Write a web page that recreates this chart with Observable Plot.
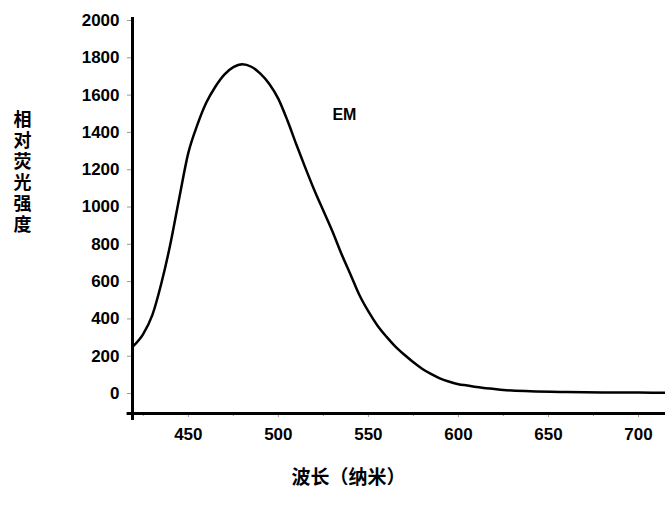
<!DOCTYPE html>
<html>
<head>
<meta charset="utf-8">
<script src="https://cdn.jsdelivr.net/npm/d3@7"></script>
<script src="https://cdn.jsdelivr.net/npm/@observablehq/plot@0.6"></script>
<style>
  html, body { margin: 0; padding: 0; background: #fff; }
  .ylab text { writing-mode: vertical-rl; text-orientation: upright; letter-spacing: 3px; }
</style>
</head>
<body>
<div id="chart"></div>
<script>
// Emission spectrum (EM)
const wavelength = [419, 425, 430, 435, 440, 445, 450, 455, 460, 465, 470, 475, 480, 485, 490, 495, 500, 505, 510, 515, 520, 525, 530, 535, 540, 545, 550, 555, 560, 565, 570, 575, 580, 585, 590, 595, 600, 605, 610, 620, 625, 640, 660, 680, 700, 715];
const intensity  = [250, 320, 420, 590, 800, 1050, 1290, 1440, 1560, 1645, 1710, 1750, 1766, 1752, 1715, 1660, 1580, 1465, 1335, 1210, 1090, 980, 870, 750, 640, 528, 440, 365, 305, 252, 208, 168, 132, 104, 80, 63, 50, 43, 35, 24, 19, 12, 8, 6, 5, 4];

const yTicks = [0, 200, 400, 600, 800, 1000, 1200, 1400, 1600, 1800, 2000];
const xTicks = [450, 500, 550, 600, 650, 700];
const xMinorTicks = [425, 475, 525, 575, 625, 675];

const seriesLabel = "EM";
const xLabel = "波长（纳米）";
const yLabel = "相对荧光强度";

const xDomain = [419, 715];
const yDomain = [-107, 2016];

const data = wavelength.map((w, i) => ({w, v: intensity[i]}));

const chart = Plot.plot({
  width: 665,
  height: 505,
  marginLeft: 132,
  marginRight: 0,
  marginTop: 17,
  marginBottom: 92,
  style: {fontFamily: "'Liberation Sans', Arial, sans-serif", background: "#fff", color: "#000"},
  x: {domain: xDomain},
  y: {domain: yDomain},
  marks: [
    Plot.axisY({ticks: yTicks, tickSize: 5, tickPadding: 8, fontSize: 17, fontWeight: "bold", stroke: "#999", label: null, tickFormat: d => String(d)}),
    Plot.axisX({ticks: xTicks, tickSize: 4, tickPadding: 10, fontSize: 17, fontWeight: "bold", stroke: "#999", label: null, tickFormat: d => String(d)}),
    Plot.axisX({ticks: xMinorTicks, tickSize: 3, stroke: "#999", text: null, label: null}),
    Plot.ruleX([xDomain[0]], {y1: -145, y2: yDomain[1], stroke: "#000", strokeWidth: 3}),
    Plot.ruleY([yDomain[0]], {x1: 416, x2: xDomain[1], stroke: "#000", strokeWidth: 3}),
    Plot.line(data, {x: "w", y: "v", curve: "monotone-x", stroke: "#000", strokeWidth: 2.5}),
    Plot.text([seriesLabel], {x: 530, y: 1496, text: d => d, textAnchor: "start", fontSize: 16, fontWeight: "bold"}),
    Plot.text([xLabel], {frameAnchor: "bottom", text: d => d, dy: 70, fontSize: 19, fontWeight: "bold", fontFamily: "'Noto Sans CJK SC', sans-serif", x: 539}),
    Plot.text([yLabel], {x: xDomain[0], y: 1212, text: d => d, dx: -110, fontSize: 18, fontWeight: "bold", fontFamily: "'Noto Sans CJK SC', sans-serif", className: "ylab"})
  ]
});
document.getElementById("chart").appendChild(chart);
</script>
</body>
</html>
